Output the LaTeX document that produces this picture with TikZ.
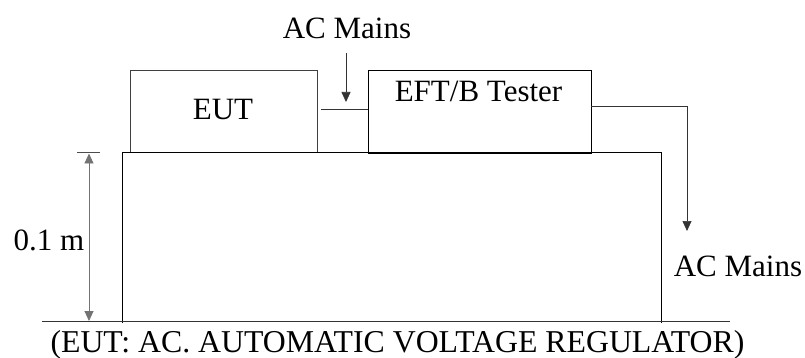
\documentclass[tikz,border=0pt]{standalone}
\usepackage{fontspec}
\setmainfont{Liberation Serif}
\usetikzlibrary{positioning, arrows.meta, calc}

\begin{document}
\begin{tikzpicture}[
    x=1pt, y=-1pt,
    font=\fontsize{31}{36}\selectfont,
    unit/.style={draw=black!75, line width=0.9pt, minimum width=187pt, minimum height=82pt, inner sep=0pt},
    tester/.style={draw=black, line width=0.9pt, minimum width=223pt, minimum height=83pt, inner sep=0pt},
    lbl/.style={anchor=base, inner sep=0pt},
    wire/.style={black!80, line width=0.7pt},
    arr/.style={wire, -{Triangle[length=10pt, width=9pt]}},
    dim/.style={black!55, line width=0.9pt, {Triangle[length=10pt, width=9pt]}-{Triangle[length=10pt, width=9pt]}},
]
\useasboundingbox (0,0) rectangle (805,358);

% Boxes on the table
\node[unit] (eut) at (223.5,111.5) {};
\node[lbl] (euttxt) at (223,120) {EUT};
\node[tester] (eft) at (479.5,111.5) {};
\node[lbl] (efttxt) at (478.5,101.5) {EFT/B Tester};

% Table and ground plane
\draw[black, line width=0.8pt] (122,323) -- (122,152.5) -- (661,152.5) -- (661,323);
\draw[black!80, line width=0.8pt] (42,321.5) -- (730,321.5);

% AC mains feed into the coupling line
\node[lbl] (acin) at (347,39) {AC Mains};
\coordinate (feed) at (346,102);
\draw[wire] ([xshift=4pt]eut.east |- 0,109) -- (eft.west |- 0,109);
\draw[arr] (346,53) -- (feed);

% AC mains out of the tester
\node[lbl] (acout) at (738,276.5) {AC Mains};
\coordinate (drop) at (687,231);
\draw[arr] (eft.east |- 0,106) -| (drop);

% Height dimension
\draw[black!70, line width=0.8pt] (77,152.5) -- (100,152.5);
\draw[dim] (89,153.5) -- (89,321);
\node[lbl] (height) at (49,250) {0.1 m};

% Caption
\node[lbl, font=\fontsize{31.8}{36}\selectfont] (caption) at (397.5,352) {(EUT: AC. AUTOMATIC VOLTAGE REGULATOR)};

\end{tikzpicture}
\end{document}
